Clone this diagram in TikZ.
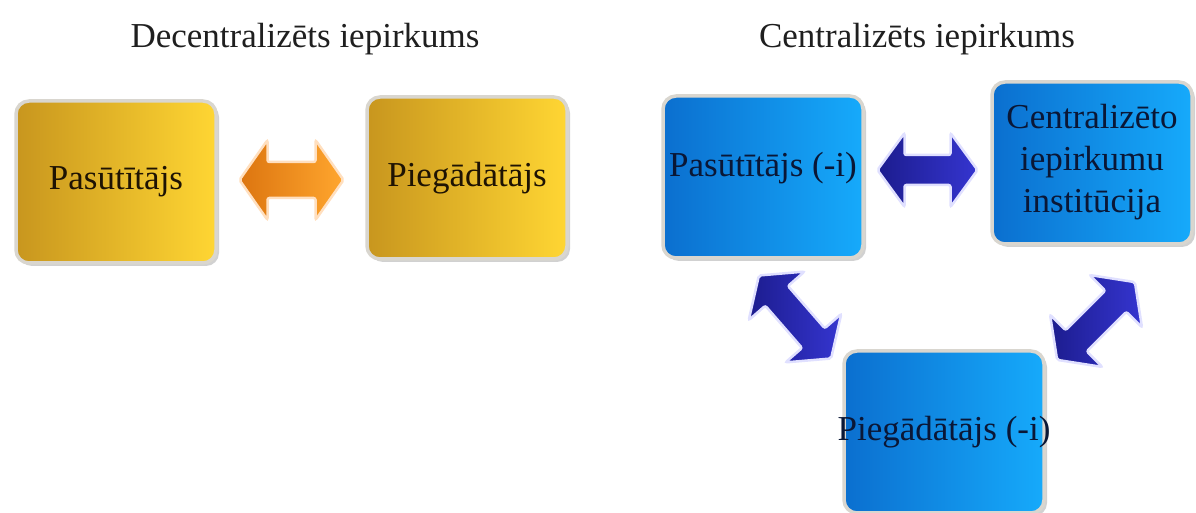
\documentclass[tikz,border=0pt]{standalone}
\usepackage{fontspec}
\setmainfont{Liberation Serif}
\usetikzlibrary{positioning, calc, shadows}

\definecolor{goldL}{HTML}{C8961E}
\definecolor{goldR}{HTML}{FFD633}
\definecolor{blueL}{HTML}{0B6FCF}
\definecolor{blueR}{HTML}{16AAFB}
\definecolor{orangeL}{HTML}{DC7510}
\definecolor{orangeR}{HTML}{FFA62E}
\definecolor{navyL}{HTML}{1C1C8E}
\definecolor{navyR}{HTML}{3535D0}
\definecolor{glow}{HTML}{D9D6CF}
\definecolor{goldtext}{HTML}{1E1303}
\definecolor{bluetext}{HTML}{0A1736}

\tikzset{
  title/.style={font=\fontsize{35}{42}\selectfont, text=black!88},
  boxtext/.style={font=\fontsize{35}{42}\selectfont, align=center},
  box/.style={rectangle, rounded corners=13pt, draw=glow, line width=3.5pt,
    minimum width=200pt, minimum height=162pt, inner sep=0pt,
    drop shadow={shadow xshift=3pt, shadow yshift=-3pt, opacity=.3, fill=black!60}},
  goldbox/.style={box, left color=goldL, right color=goldR, text=goldtext, boxtext},
  bluebox/.style={box, left color=blueL, right color=blueR},
  arrowbase/.style={draw, line width=2.5pt, rounded corners=2pt,
    drop shadow={shadow xshift=2pt, shadow yshift=-2pt, opacity=.25, fill=black!60}},
  orangearrow/.style={arrowbase, draw=orange!25, left color=orangeL, right color=orangeR},
  navyarrow/.style={arrowbase, draw=blue!12, left color=navyL, right color=navyR},
  % divpusēja bulta: #1 puse garuma, #2 galvas garums, #3 galvas pusplatums, #4 kāta pusplatums
  pics/biarrow/.style n args={4}{code={
    \path[pic actions] (-#1,0) -- (-#1+#2,#3) -- (-#1+#2,#4) -- (#1-#2,#4)
      -- (#1-#2,#3) -- (#1,0) -- (#1-#2,-#3) -- (#1-#2,-#4) -- (-#1+#2,-#4)
      -- (-#1+#2,-#3) -- cycle;
  }}
}

\begin{document}
\begin{tikzpicture}[x=1pt,y=1pt]
  \useasboundingbox (0,0) rectangle (1196,513);

  % virsraksti
  \node[title, anchor=base] (tdec) at (305,465) {Decentralizēts iepirkums};
  \node[title, anchor=base] (tcen) at (917,465) {Centralizēts iepirkums};

  % decentralizēts iepirkums
  \node[goldbox] (pas) at (116,331) {Pasūtītājs};
  \node[goldbox] (pieg) at (467,335) {Piegādātājs};
  \pic[orangearrow] at ($(pas.east)!0.5!(pieg.west)$) {biarrow={52}{28}{40}{18}};

  % centralizēts iepirkums
  \node[bluebox] (cpas) at (763,336) {};
  \node[boxtext, text=bluetext] (cpastxt) at ([yshift=9pt]cpas.center) {Pasūtītājs (-i)};
  \node[bluebox] (cinst) at (1092,350) {};
  \node[boxtext, text=bluetext] (cinsttxt) at ([yshift=1pt]cinst.center)
    {Centralizēto\\iepirkumu\\institūcija};
  \node[bluebox] (cpieg) at (944,81) {};
  \node[boxtext, text=bluetext] (cpiegtxt) at (cpieg.center) {Piegādātājs (-i)};

  \pic[navyarrow] at ($(cpas.east)!0.5!(cinst.west)$) {biarrow={50}{27}{37}{15}};
  \pic[navyarrow, rotate=-49] at (795,196) {biarrow={55}{27}{37}{15}};
  \pic[navyarrow, rotate=45] at (1096,192) {biarrow={55}{27}{37}{15}};
\end{tikzpicture}
\end{document}
